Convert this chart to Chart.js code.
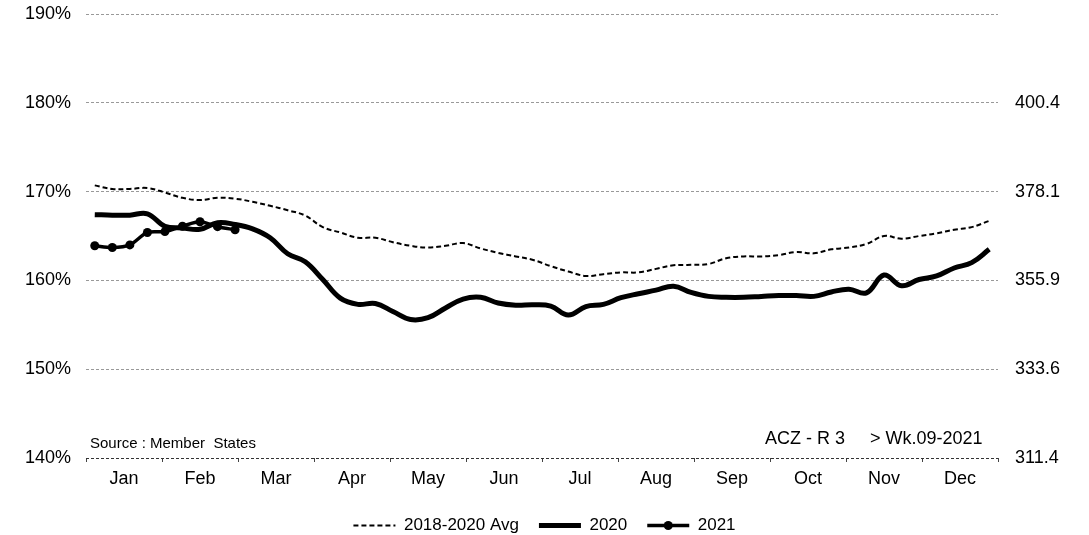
<!DOCTYPE html>
<html>
<head>
<meta charset="utf-8">
<script src="https://cdn.jsdelivr.net/npm/chart.js@4.4.0/dist/chart.umd.min.js"></script>
<style>
  html, body { margin: 0; padding: 0; background: #fff; }
  #wrap { width: 1089px; height: 535px; }
</style>
</head>
<body>
<div id="wrap"><canvas id="chart"></canvas></div>
<script>
// weekly index (1..52) and month labels for the bottom axis
const weeks = [1, 2, 3, 4, 5, 6, 7, 8, 9, 10, 11, 12, 13, 14, 15, 16, 17, 18, 19, 20, 21, 22, 23, 24, 25, 26,
               27, 28, 29, 30, 31, 32, 33, 34, 35, 36, 37, 38, 39, 40, 41, 42, 43, 44, 45, 46, 47, 48, 49, 50, 51, 52];
const months = ['Jan', 'Feb', 'Mar', 'Apr', 'May', 'Jun', 'Jul', 'Aug', 'Sep', 'Oct', 'Nov', 'Dec'];

// values in % (left axis)
const avg1820 = [170.7, 170.3, 170.3, 170.4, 169.9, 169.3, 169.05, 169.3, 169.2, 168.85, 168.4, 167.9, 167.3,
                 166.0, 165.4, 164.8, 164.8, 164.3, 163.9, 163.7, 163.9, 164.2, 163.6, 163.1, 162.7, 162.3,
                 161.6, 161.0, 160.5, 160.7, 160.9, 160.9, 161.3, 161.7, 161.75, 161.85, 162.5, 162.7, 162.7,
                 162.85, 163.2, 163.05, 163.5, 163.7, 164.1, 165.0, 164.7, 165.0, 165.3, 165.7, 166.0, 166.7];
const y2020 = [167.4, 167.35, 167.35, 167.5, 166.1, 165.9, 165.75, 166.5, 166.3, 165.8, 164.8, 163.0, 162.1,
               160.1, 158.0, 157.3, 157.4, 156.5, 155.6, 155.8, 156.9, 157.9, 158.1, 157.45, 157.2, 157.25,
               157.1, 156.1, 157.05, 157.3, 158.05, 158.5, 158.9, 159.35, 158.65, 158.2, 158.1, 158.1, 158.2,
               158.3, 158.3, 158.2, 158.7, 159.0, 158.6, 160.6, 159.4, 160.1, 160.5, 161.4, 162.0, 163.5];
const y2021 = [163.9, 163.7, 164.0, 165.4, 165.5, 166.1, 166.6, 166.05, 165.7];

// right axis labels, as printed
const rightTicks = ['311.4', '333.6', '355.9', '378.1', '400.4', ''];

Chart.defaults.font.family = '"Liberation Sans", Arial, sans-serif';
Chart.defaults.color = '#000';

const notes = {
  id: 'notes',
  afterDraw(chart) {
    const { ctx, chartArea } = chart;
    ctx.save();
    ctx.fillStyle = '#000';
    ctx.textBaseline = 'middle';
    ctx.textAlign = 'left';
    ctx.font = '15px "Liberation Sans", Arial, sans-serif';
    ctx.fillText('Source : Member  States', chartArea.left + 4, chartArea.bottom - 14);
    ctx.font = '18px "Liberation Sans", Arial, sans-serif';
    ctx.fillText('ACZ - R 3     > Wk.09-2021', chartArea.right - 233, chartArea.bottom - 19);

    // marker dot on the 2021 legend line
    const box = chart.legend.legendHitBoxes[2];
    if (box) {
      ctx.beginPath();
      ctx.arc(box.left + 21, box.top + box.height / 2, 4.5, 0, Math.PI * 2);
      ctx.fill();
    }
    ctx.restore();
  }
};

// y axes: fixed width, and keep the top gridline close to the canvas edge
const fitY = w => s => { s.width = w; s.paddingTop = 14; };

const ctx = document.getElementById('chart').getContext('2d');
const data = {
  labels: weeks,
  datasets: [
    { label: '2018-2020 Avg', data: avg1820, borderColor: '#000', borderWidth: 2, borderDash: [5, 3],
      pointRadius: 0, tension: 0.4, order: 2 },
    { label: '2020', data: y2020, borderColor: '#000', borderWidth: 5,
      pointRadius: 0, tension: 0.4, order: 1 },
    { label: '2021', data: y2021, borderColor: '#000', backgroundColor: '#000', borderWidth: 3.5,
      pointRadius: 4.5, pointBackgroundColor: '#000', pointBorderWidth: 0, tension: 0.3, order: 0 }
  ]
};
const options = {
  responsive: true, maintainAspectRatio: false, animation: false,
  layout: { padding: { top: 0, bottom: -9, left: 0, right: 0 } },
  plugins: {
    tooltip: { enabled: false },
    legend: {
      position: 'bottom',
      labels: {
        usePointStyle: true, pointStyle: 'line', pointStyleWidth: 42,
        padding: 20, color: '#000', font: { size: 17 },
        sort: (a, b) => a.datasetIndex - b.datasetIndex,
        generateLabels: chart => Chart.defaults.plugins.legend.labels.generateLabels(chart).map(item => {
          const ds = chart.data.datasets[item.datasetIndex];
          return { ...item, pointStyle: 'line', strokeStyle: '#000', lineWidth: ds.borderWidth,
                   lineDash: ds.borderDash || [] };
        })
      }
    }
  },
  scales: {
    x: { type: 'category', labels: weeks, offset: true, display: false },
    xm: {
      type: 'category', labels: months, offset: true, position: 'bottom',
      grid: { offset: true, drawOnChartArea: false, tickLength: 4, color: '#444' },
      border: { display: false },
      ticks: { padding: 6, font: { size: 18 }, color: '#000', maxRotation: 0, autoSkip: false },
      afterFit: s => { s.height = 39; }
    },
    y: {
      position: 'left', min: 140, max: 190,
      ticks: { stepSize: 10, padding: 15, font: { size: 18 }, color: '#000', callback: v => v + '%' },
      grid: { color: c => (c.tick && c.tick.value === 140 ? '#333' : '#999'), drawTicks: false, lineWidth: 1 },
      border: { display: false, dash: [3, 2] },
      afterFit: fitY(86)
    },
    y2: {
      position: 'right', min: 140, max: 190,
      ticks: { stepSize: 10, padding: 17, font: { size: 18 }, color: '#000', callback: (v, i) => rightTicks[i] },
      grid: { drawOnChartArea: false, drawTicks: false },
      border: { display: false },
      afterFit: fitY(91)
    }
  }
};
new Chart(ctx, { type: 'line', data, options, plugins: [notes] });
</script>
</body>
</html>
